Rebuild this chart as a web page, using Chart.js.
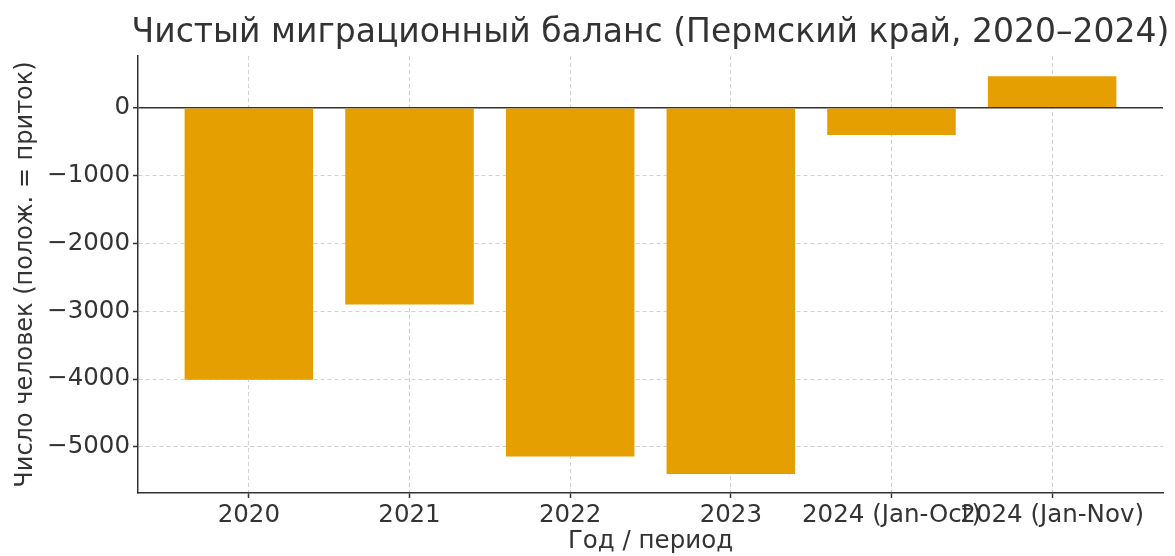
<!DOCTYPE html>
<html>
<head>
<meta charset="utf-8">
<script src="https://cdn.jsdelivr.net/npm/chart.js@4"></script>
<style>
  html, body { margin: 0; padding: 0; background: #fff; }
  #wrap { width: 1175px; height: 556px; }
</style>
</head>
<body>
<div id="wrap"><canvas id="migChart" width="1175" height="556"></canvas></div>
<script>
// --- данные ---
const periods = ['2020', '2021', '2022', '2023', '2024 (Jan-Oct)', '2024 (Jan-Nov)'];
const netMigration = [-4010, -2900, -5140, -5400, -400, 465];
const yTicks = [0, -1000, -2000, -3000, -4000, -5000];
const yMin = -5680;
const yMax = 765;

const FONT = 'DejaVu Sans';
const INK = '#333333';

// заголовок по центру области графика (как в matplotlib)
const titlePlugin = {
    id: 'axesTitle',
    afterDraw(chart) {
        const { ctx, chartArea } = chart;
        ctx.save();
        ctx.font = '33px "' + FONT + '"';
        ctx.fillStyle = INK;
        ctx.textAlign = 'center';
        ctx.textBaseline = 'middle';
        ctx.fillText('Чистый миграционный баланс (Пермский край, 2020–2024)',
            (chartArea.left + chartArea.right) / 2, 33);
        ctx.restore();
    }
};

const ctx = document.getElementById('migChart');
new Chart(ctx.getContext('2d'), {
    type: 'bar',
    data: {
        datasets: [{
            data: netMigration.map((v, i) => ({ x: i, y: v })),
            backgroundColor: '#E69F00',
            borderWidth: 0,
            barPercentage: 0.8,
            categoryPercentage: 1.0
        }]
    },
    options: {
        responsive: false,
        animation: false,
        devicePixelRatio: 1,
        layout: { padding: { top: 56, right: 12, bottom: 0, left: 0 } },
        plugins: {
            legend: { display: false },
            tooltip: { enabled: false }
        },
        scales: {
            x: {
                type: 'linear',
                min: -0.69,
                max: 5.69,
                offset: false,
                afterBuildTicks: (scale) => {
                    scale.ticks = periods.map((p, i) => ({ value: i }));
                },
                afterFit: (scale) => { scale.height = 63; },
                ticks: {
                    autoSkip: false,
                    maxRotation: 0,
                    minRotation: 0,
                    padding: 3,
                    color: INK,
                    font: { family: FONT, size: 24.5 },
                    callback: (v) => periods[v]
                },
                grid: {
                    offset: false,
                    color: '#d0d0d0',
                    lineWidth: 1,
                    tickColor: INK,
                    tickLength: 5,
                    tickWidth: 1.5,
                    tickBorderDash: []
                },
                border: {
                    display: true,
                    color: INK,
                    width: 1.5,
                    dash: (c) => c.type === 'tick' ? [4, 3] : []
                },
                title: {
                    display: true,
                    text: 'Год / период',
                    color: INK,
                    font: { family: FONT, size: 24.5 },
                    padding: { top: 0, bottom: 0 }
                }
            },
            y: {
                min: yMin,
                max: yMax,
                afterBuildTicks: (scale) => {
                    scale.ticks = yTicks.map(v => ({ value: v }));
                },
                afterFit: (scale) => { scale.width = 138; },
                ticks: {
                    padding: 3,
                    color: INK,
                    font: { family: FONT, size: 24.5 },
                    callback: (v) => v < 0 ? '\u2212' + Math.abs(v) : String(v)
                },
                grid: {
                    color: (c) => (c.tick && c.tick.value === 0) ? INK : '#d0d0d0',
                    lineWidth: (c) => (c.tick && c.tick.value === 0) ? 1.5 : 1,
                    tickColor: INK,
                    tickLength: 5,
                    tickWidth: 1.5,
                    tickBorderDash: []
                },
                border: {
                    display: true,
                    color: INK,
                    width: 1.5,
                    dash: (c) => (c.type === 'tick' && c.tick.value !== 0) ? [4, 3] : []
                },
                title: {
                    display: true,
                    text: 'Число человек (полож. = приток)',
                    color: INK,
                    font: { family: FONT, size: 24 },
                    padding: { top: 11, bottom: 0 }
                }
            }
        }
    },
    plugins: [titlePlugin]
});
</script>
</body>
</html>
